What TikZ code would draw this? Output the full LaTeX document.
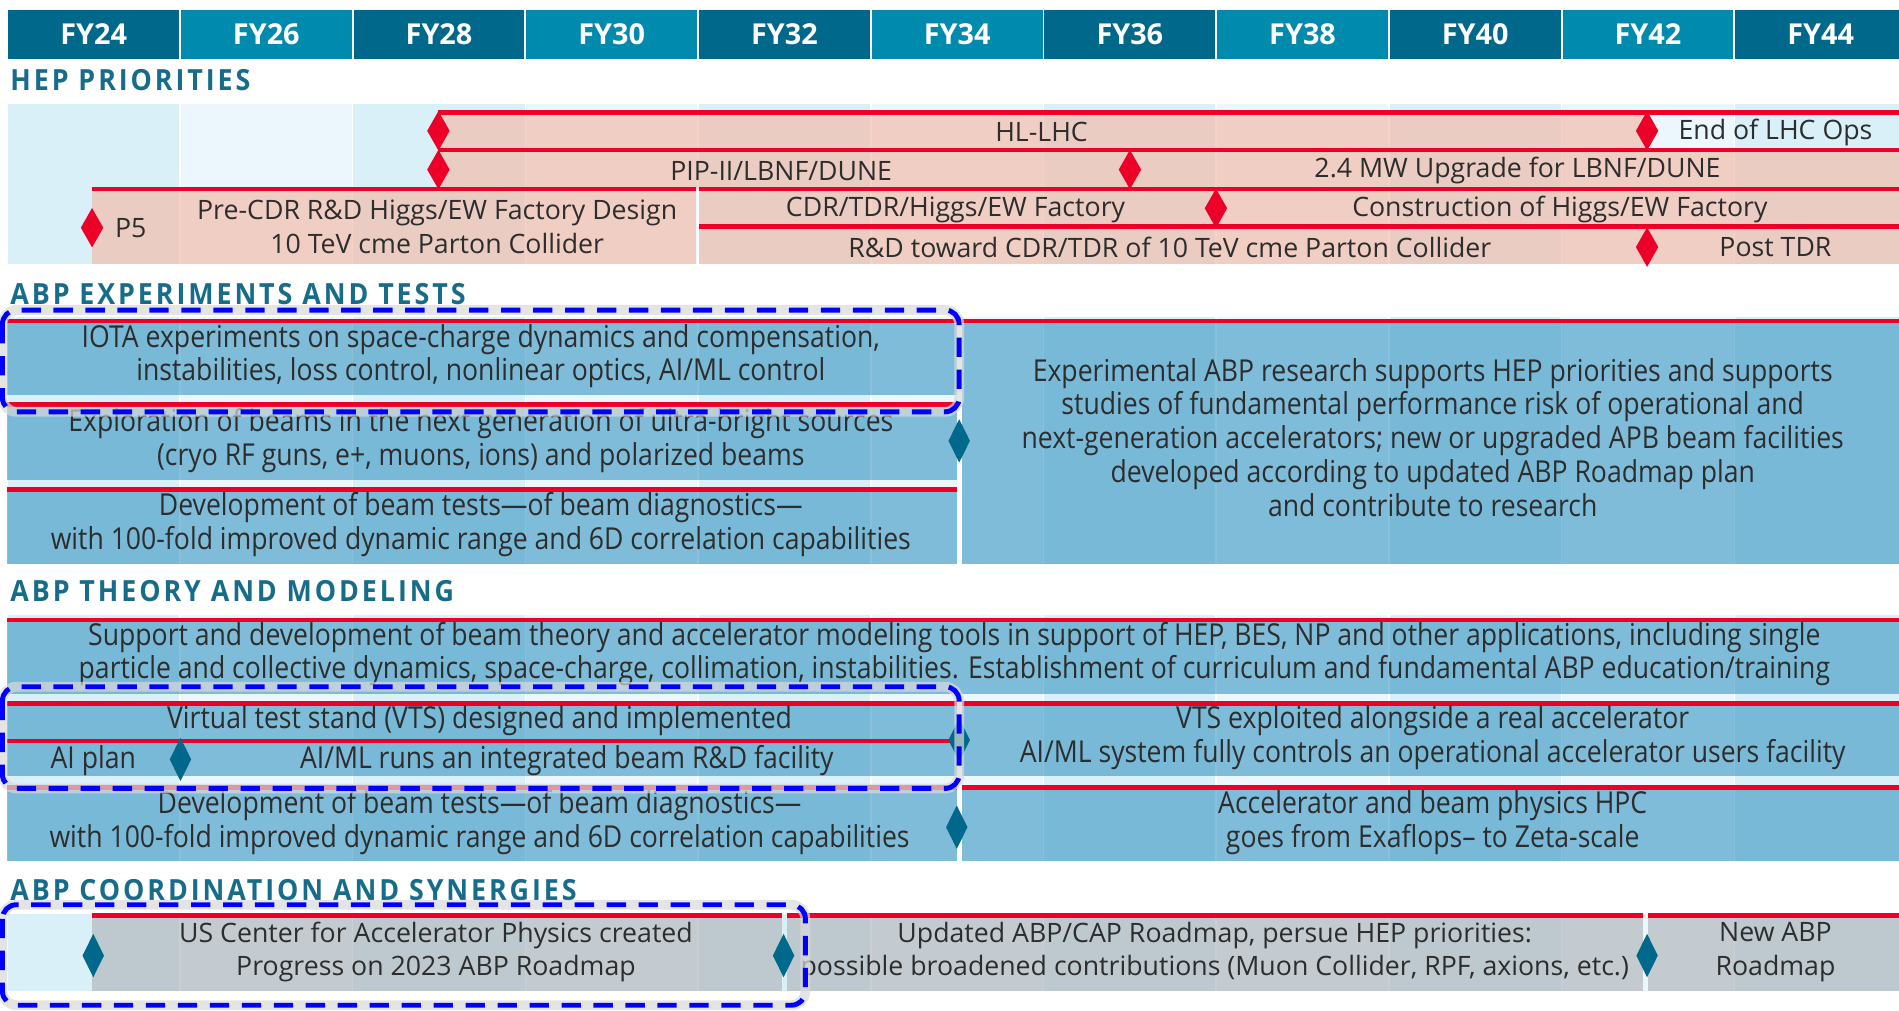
\documentclass[tikz,border=0pt]{standalone}
\usepackage{fontspec}
\setmainfont{Open Sans}
\newfontfamily\condfont[FakeStretch=0.88]{Open Sans}
\newfontfamily\labfont[FakeStretch=0.92,LetterSpace=10]{Open Sans}
\usetikzlibrary{shapes.geometric}

\definecolor{fydark}{RGB}{0,104,138}
\definecolor{fylight}{RGB}{0,138,174}
\definecolor{colA}{RGB}{218,240,249}
\definecolor{colB}{RGB}{235,247,252}
\definecolor{hepred}{RGB}{236,0,40}
\definecolor{heppink}{RGB}{245,180,160}
\definecolor{abpblue}{RGB}{40,140,190}
\definecolor{coordgray}{RGB}{170,175,180}
\colorlet{abpteal}{fydark}
\definecolor{labteal}{RGB}{22,108,137}
\definecolor{txt}{RGB}{45,45,45}
\def\colw{142.6}

\begin{document}
\begin{tikzpicture}
    [x=0.012111cm,y=-0.012111cm,
      fytext/.style={font=\bfseries\fontsize{8.2}{10}\selectfont,text=white,inner sep=0},
      seclabel/.style={font=\labfont\bfseries\fontsize{8.3}{10}\selectfont,text=labteal,anchor=west,inner sep=0},
      heptext/.style={font=\fontsize{7.6}{9.6}\selectfont,text=txt,align=center,inner sep=0},
      abptext/.style={font=\condfont\fontsize{8.6}{9.6}\selectfont,text=txt,align=center,inner sep=0},
      hepbar/.style={fill=heppink,fill opacity=0.6},
      abpbar/.style={fill=abpblue,fill opacity=0.55},
      coordbar/.style={fill=coordgray,fill opacity=0.6},
      redline/.style={draw=hepred,line width=1.3pt},
      hepdia/.style={diamond,fill=hepred,minimum width=0.23cm,minimum height=0.4cm,inner sep=0},
      abpdia/.style={diamond,fill=abpteal,minimum width=0.22cm,minimum height=0.44cm,inner sep=0},
      dashbox/.style={draw=blue,line width=1.4pt,dash pattern=on 5.5pt off 3.6pt,rounded corners=4pt},
      boxshade/.style={draw=black!15,line width=2.8pt,rounded corners=4pt,opacity=0.7}]

    \useasboundingbox (0,0) rectangle (1568,834);

    % year header
    \foreach \i/\yr in {0/24,1/26,2/28,3/30,4/32,5/34,6/36,7/38,8/40,9/42,10/44} {
      \pgfmathsetmacro\xl{6+\colw*\i}
      \pgfmathsetmacro\xr{6+\colw*(\i+1)}
      \ifodd\i \def\fyc{fylight}\else\def\fyc{fydark}\fi
      \fill[\fyc] (\xl+0.8,8) rectangle (\xr-0.8,49);
      \node[fytext] (fy\yr) at ({(\xl+\xr)/2},28.5) {FY\yr};
    }

    % column backgrounds of the four sections
    \foreach \ya/\yb in {86/218,262/466,508/711,755/818} {
      \foreach \i in {0,...,10} {
        \pgfmathsetmacro\xl{6+\colw*\i}
        \pgfmathsetmacro\xr{min(6+\colw*(\i+1),1569)}
        \ifodd\i \def\cc{colB}\else\def\cc{colA}\fi
        \fill[\cc] (\xl+0.6,\ya) rectangle (\xr-0.6,\yb);
      }
    }

    \node[seclabel] (lhep) at (8,66) {HEP PRIORITIES};
    \node[seclabel] (lexp) at (8,243) {ABP EXPERIMENTS AND TESTS};
    \node[seclabel] (lthe) at (8,488) {ABP THEORY AND MODELING};
    \node[seclabel] (lcoo) at (8,735) {ABP COORDINATION AND SYNERGIES};

    % HEP priorities
    \fill[hepbar] (362,93) rectangle (1360,124);
    \fill[hepbar] (362,124) rectangle (1568,156);
    \fill[hepbar] (76,156) rectangle (575,218);
    \fill[hepbar] (577,156) rectangle (1568,218);
    \draw[redline] (362,93) -- (1568,93);
    \draw[redline] (362,124) -- (1568,124);
    \draw[redline] (76,156) -- (575,156);
    \draw[redline] (577,156) -- (1568,156);
    \draw[redline] (577,187) -- (1568,187);

    \node[heptext] (hl) at (860,109) {HL-LHC};
    \node[heptext] (endlhc) at (1466,109) {End of LHC Ops};
    \node[heptext] (pip) at (645,141) {PIP-II/LBNF/DUNE};
    \node[heptext] (upg) at (1253,141) {2.4 MW Upgrade for LBNF/DUNE};
    \node[heptext] (p5) at (108,188) {P5};
    \node[heptext] (precdr) at (361,187) {Pre-CDR R\&D Higgs/EW Factory Design\\10 TeV cme Parton Collider};
    \node[heptext] (cdr) at (789,173) {CDR/TDR/Higgs/EW Factory};
    \node[heptext] (constr) at (1288,173) {Construction of Higgs/EW Factory};
    \node[heptext] (rnd) at (966,204) {R\&D toward CDR/TDR of 10 TeV cme Parton Collider};
    \node[heptext] (posttdr) at (1466,204) {Post TDR};

    \node[hepdia] (dhl) at (362,108) {};
    \node[hepdia] (dend) at (1360,108) {};
    \node[hepdia] (dpip) at (362,140) {};
    \node[hepdia] (dupg) at (933,140) {};
    \node[hepdia] (dp5) at (76,188) {};
    \node[hepdia] (dcon) at (1004,172) {};
    \node[hepdia] (dpost) at (1360,204) {};

    % ABP experiments and tests
    \fill[abpbar] (6,265) rectangle (790,326);
    \fill[abpbar] (6,334) rectangle (790,396);
    \fill[abpbar] (6,404) rectangle (790,466);
    \fill[abpbar] (794,265) rectangle (1568,466);
    \fill[white] (790,262) rectangle (794,466);
    \draw[redline] (6,265) -- (790,265);
    \draw[redline] (794,265) -- (1568,265);
    \draw[redline] (6,334) -- (790,334);
    \draw[redline] (6,404) -- (790,404);

    \node[abptext] (iota) at (397,294) {IOTA experiments on space-charge dynamics and compensation,\\instabilities, loss control, nonlinear optics, AI/ML control};
    \node[abptext] (explo) at (397,364) {Exploration of beams in the next generation of ultra-bright sources\\(cryo RF guns, e+, muons, ions) and polarized beams};
    \node[abptext] (devexp) at (397,433) {Development of beam tests—of beam diagnostics—\\with 100-fold improved dynamic range and 6D correlation capabilities};
    \node[abptext] (expres) at (1183,361) {Experimental ABP research supports HEP priorities and supports\\studies of fundamental performance risk of operational and\\next-generation accelerators; new or upgraded APB beam facilities\\developed according to updated ABP Roadmap plan\\and contribute to research};
    \node[abpdia] (dexp) at (792,364) {};

    % ABP theory and modeling
    \fill[abpbar] (6,512) rectangle (1568,573);
    \fill[abpbar] (6,581) rectangle (790,611);
    \fill[abpbar] (6,612) rectangle (790,641);
    \fill[abpbar] (794,581) rectangle (1568,641);
    \fill[abpbar] (6,650) rectangle (790,711);
    \fill[abpbar] (794,650) rectangle (1568,711);
    \fill[white] (790,578) rectangle (794,711);
    \draw[redline] (6,512) -- (1568,512);
    \draw[redline] (6,581) -- (790,581);
    \draw[redline] (794,581) -- (1568,581);
    \draw[redline] (6,612) -- (790,612);
    \draw[redline] (6,650) -- (790,650);
    \draw[redline] (794,650) -- (1568,650);

    \node[abptext] (support) at (788,540) {Support and development of beam theory and accelerator modeling tools in support of HEP, BES, NP and other applications, including single\\particle and collective dynamics, space-charge, collimation, instabilities. Establishment of curriculum and fundamental ABP education/training};
    \node[abptext] (vts) at (396,595) {Virtual test stand (VTS) designed and implemented};
    \node[abptext] (aiplan) at (77,628) {AI plan};
    \node[abptext] (aiml) at (468,628) {AI/ML runs an integrated beam R\&D facility};
    \node[abptext] (vtsx) at (1183,609) {VTS exploited alongside a real accelerator\\AI/ML system fully controls an operational accelerator users facility};
    \node[abptext] (devth) at (396,679) {Development of beam tests—of beam diagnostics—\\with 100-fold improved dynamic range and 6D correlation capabilities};
    \node[abptext] (hpc) at (1183,679) {Accelerator and beam physics HPC\\goes from Exaflops– to Zeta-scale};
    \node[abpdia] (dai) at (149,627) {};
    \node[abpdia] (dvts) at (792,611) {};
    \node[abpdia] (dhpc) at (790,683) {};

    % ABP coordination and synergies
    \fill[coordbar] (76,756) rectangle (646,818);
    \fill[coordbar] (650,756) rectangle (1357,818);
    \fill[coordbar] (1361,756) rectangle (1568,818);
    \draw[redline] (76,756) -- (646,756);
    \draw[redline] (650,756) -- (1357,756);
    \draw[redline] (1361,756) -- (1568,756);

    \node[heptext] (uscap) at (360,786) {US Center for Accelerator Physics created\\Progress on 2023 ABP Roadmap};
    \node[heptext] (updated) at (1003,786) {Updated ABP/CAP Roadmap, persue HEP priorities:\\possible broadened contributions (Muon Collider, RPF, axions, etc.)};
    \node[heptext] (newabp) at (1466,786) {New ABP\\Roadmap};
    \node[abpdia] (dus) at (77,789) {};
    \node[abpdia] (dupd) at (647,789) {};
    \node[abpdia] (dnew) at (1360,789) {};

    % highlighted boxes
    \foreach \xa/\ya/\xb/\yb in {2/256/792/340,2/567/792/651,2/747/665/830} {
      \draw[boxshade] (\xa,\ya) rectangle (\xb,\yb);
      \draw[dashbox] (\xa,\ya) rectangle (\xb,\yb);
    }

\end{tikzpicture}
\end{document}
